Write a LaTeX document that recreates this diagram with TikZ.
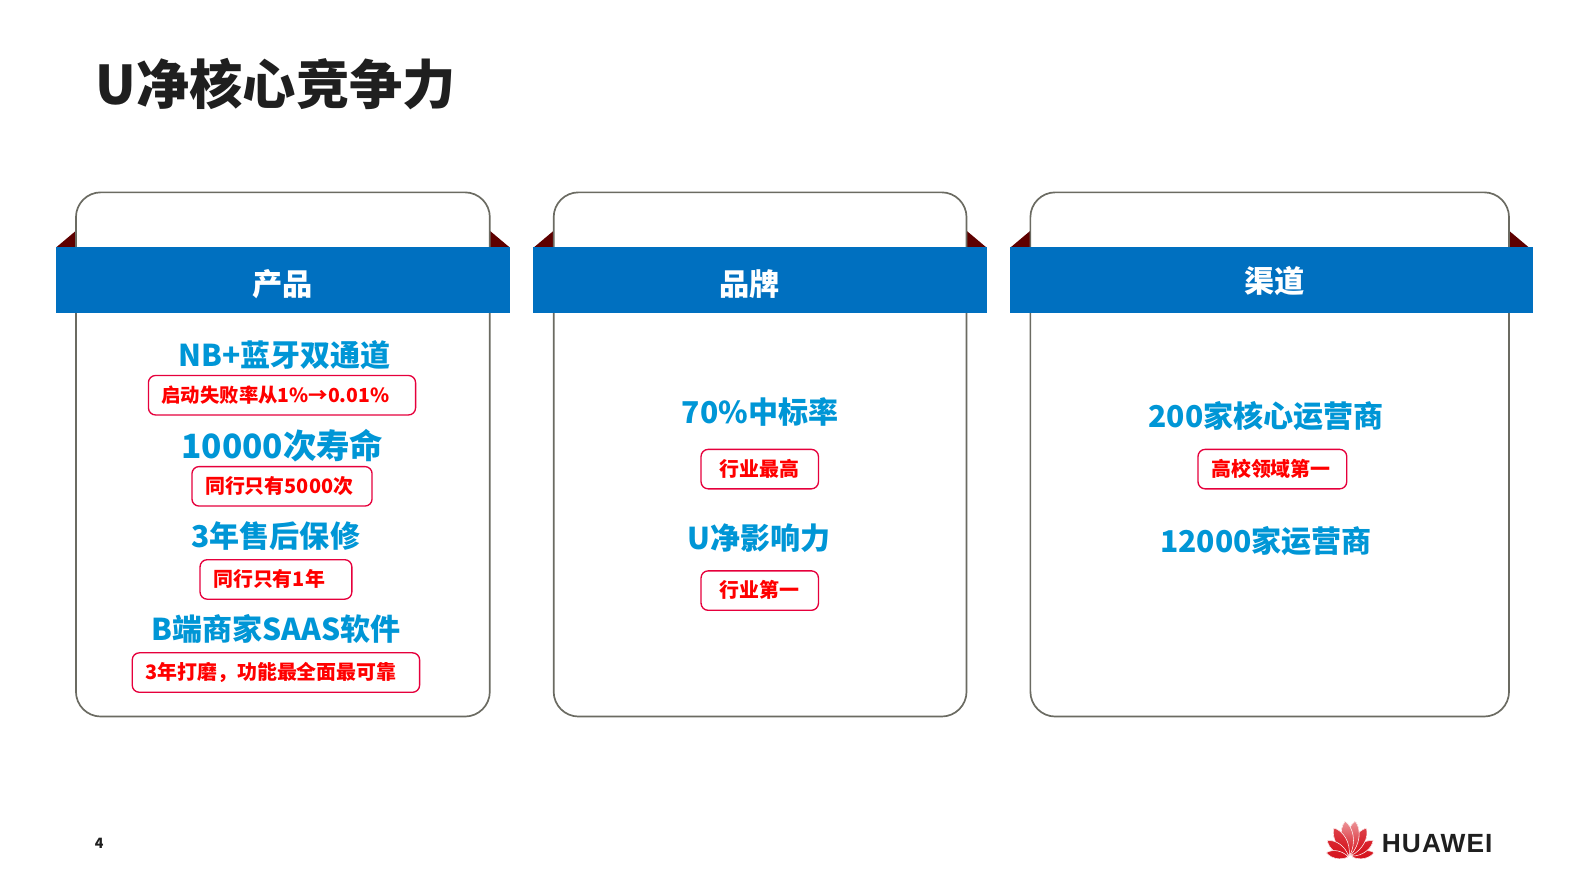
\documentclass[tikz,border=0pt]{standalone}
\usepackage{fontspec}
\setmainfont{Noto Sans CJK SC}
\newfontfamily\logofont{Liberation Sans}[LetterSpace=4]
\definecolor{bandblue}{HTML}{0070C0}
\definecolor{headblue}{HTML}{0096D6}
\definecolor{foldred}{HTML}{5E0000}
\definecolor{tagred}{HTML}{E6003C}
\definecolor{panelgray}{HTML}{6B6B62}
\definecolor{titleblack}{HTML}{1F1F1F}
\definecolor{logored}{HTML}{D5101A}
\tikzset{
  panelbox/.style={draw=panelgray, line width=0.95pt, rounded corners=14pt, fill=white, inner sep=0pt},
  bandbox/.style={fill=bandblue, inner sep=0pt, minimum height=1.3cm},
  bandname/.style={text=white, inner sep=0pt, font=\fontsize{17}{18}\selectfont\bfseries},
  foldtip/.style={fill=foldred},
  headtext/.style={text=headblue, font=\fontsize{16.9}{18}\selectfont\bfseries, inner sep=0pt},
  tagbox/.style={draw=tagred, line width=0.75pt, rounded corners=4pt, fill=white, text=red, anchor=west,
    font=\fontsize{11.2}{13}\selectfont\bfseries, align=left, inner xsep=0.26cm, inner ysep=0pt, minimum height=0.78cm,
    text height=10.5pt, text depth=2.5pt}
}
\begin{document}
\begin{tikzpicture}[x=0.02cm, y=-0.02cm]
\useasboundingbox[fill=white] (0,0) rectangle (1568,881.4);
\node[anchor=west, text=titleblack, inner sep=0pt, font=\fontsize{30}{32}\selectfont\bfseries] (title) at (94,83.5) {U净核心竞争力};
% folds behind the bands
\foreach \left/\right in {75/484, 547/955, 1018/1491} {
  \fill[foldtip] ({\left-19}, 244) -- (\left, 228) -- (\left, 244) -- cycle;
  \fill[foldtip] (\right, 228) -- ({\right+19}, 244) -- (\right, 244) -- cycle;
}
\node[panelbox, minimum width=8.18cm, minimum height=10.36cm] (panelA) at (279.5, 449) {};
\node[panelbox, minimum width=8.16cm, minimum height=10.36cm] (panelB) at (751, 449) {};
\node[panelbox, minimum width=9.46cm, minimum height=10.36cm] (panelC) at (1254.5, 449) {};
\node[bandbox, minimum width=8.98cm] (bandA) at (279.5, 276.5) {};
\node[bandbox, minimum width=8.96cm] (bandB) at (751, 276.5) {};
\node[bandbox, minimum width=10.34cm] (bandC) at (1256.5, 276.5) {};
\node[bandname] (nameA) at (279, 280.5) {产品};
\node[bandname] (nameB) at (741, 280.5) {品牌};
\node[bandname] (nameC) at (1259, 277.5) {渠道};
% first column
\node[headtext] (headA) at (281, 351) {NB+蓝牙双通道};
\node[tagbox, text width=4.76cm, font=\fontsize{10.9}{13}\selectfont\bfseries] (tagA) at (146, 390.5) {启动失败率从1\%→0.01\%};
\node[headtext, font=\fontsize{18.8}{20}\selectfont\bfseries] (headB) at (279, 440) {10000次寿命};
\node[tagbox, text width=3.04cm] (tagB) at (189, 480.5) {同行只有5000次};
\node[headtext] (headC) at (272.5, 530) {3年售后保修};
\node[tagbox, text width=2.48cm] (tagC) at (197, 572.5) {同行只有1年};
\node[headtext] (headD) at (273, 621) {B端商家SAAS软件};
\node[tagbox, text width=5.16cm] (tagD) at (130, 664.5) {3年打磨，功能最全面最可靠};
% second column
\node[headtext] (headE) at (751, 407) {70\%中标率};
\node[tagbox, text width=1.6cm, inner xsep=0.36cm] (tagE) at (692, 463.5) {行业最高};
\node[headtext] (headF) at (750, 532) {U净影响力};
\node[tagbox, text width=1.6cm, inner xsep=0.36cm] (tagF) at (692, 583.5) {行业第一};
% third column
\node[headtext] (headG) at (1251, 411) {200家核心运营商};
\node[tagbox, text width=2.42cm] (tagG) at (1183, 463.5) {高校领域第一};
\node[headtext] (headH) at (1251, 535) {12000家运营商};
% footer
\node[inner sep=0pt, text=titleblack, font=\fontsize{8}{9}\selectfont\bfseries] (pageno) at (98, 833) {4};
\foreach \ang/\len/\tint in {-79/22/95, -54/26/90, -29/31/80, -8/34/45, 8/34/45, 29/31/80, 54/26/90, 79/22/95} {
  \fill[logored, top color=logored!\tint!white, bottom color=logored, draw=white, line width=0.3pt, shift={(1334, 847)}, rotate=\ang]
    (0, -2) .. controls ({-0.24*\len}, {-0.4*\len}) and ({-0.22*\len}, {-0.85*\len}) .. (0, {-2-\len})
    .. controls ({0.22*\len}, {-0.85*\len}) and ({0.24*\len}, {-0.4*\len}) .. (0, -2) -- cycle;
}
\node[anchor=west, inner sep=0pt, text=titleblack, font=\logofont\fontsize{14.8}{16}\selectfont\bfseries] (brand) at (1365, 833) {HUAWEI};
\end{tikzpicture}
\end{document}
